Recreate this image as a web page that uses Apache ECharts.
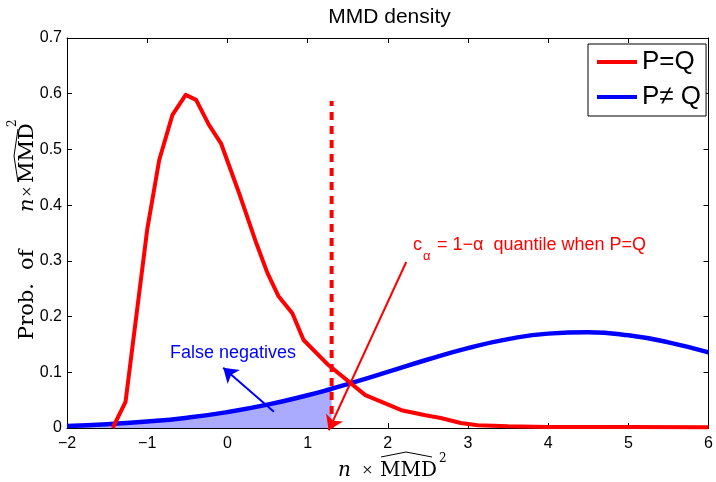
<!DOCTYPE html>
<html><head><meta charset="utf-8">
<script src="https://cdn.jsdelivr.net/npm/echarts@6/dist/echarts.min.js"></script>
<style>html,body{margin:0;padding:0;background:#fff}#c{width:716px;height:482px}</style>
</head><body><div id="c"></div>
<script>
// ---- data ----
const seriesNames = ['P=Q', 'P\u2260 Q'];
const redX = [-1.43, -1.27, -1.0, -0.85, -0.685, -0.52, -0.39, -0.23, -0.08, 0.15, 0.36, 0.50, 0.64, 0.81, 0.95, 1.26, 1.72, 2.17, 2.47, 2.66, 2.91, 3.12, 3.5, 4.0, 5.0, 6.0];
const redY = [0, 0.047, 0.356, 0.481, 0.562, 0.598, 0.589, 0.544, 0.511, 0.42, 0.332, 0.278, 0.236, 0.206, 0.158, 0.113, 0.059, 0.032, 0.023, 0.018, 0.009, 0.005, 0.003, 0.002, 0.002, 0.0015];
const blueX = [-2, -1.5, -1, -0.5, 0, 0.5, 1, 1.3, 1.5, 2, 2.5, 3, 3.5, 4, 4.5, 5, 5.5, 6];
const blueY = [0.0038, 0.0068, 0.0115, 0.0185, 0.0285, 0.0419, 0.0588, 0.0704, 0.0788, 0.1007, 0.123, 0.1434, 0.1595, 0.1694, 0.1718, 0.1663, 0.1537, 0.1356];
const cAlpha = 1.3;          // quantile position
const dashTop = 0.587;       // top of dashed quantile line
const xMin = -2, xMax = 6, xStep = 1;
const yMin = 0, yMax = 0.7, yStep = 0.1;
const arrowFalseNeg = [[0.58, 0.029], [-0.052, 0.108]];
const arrowQuantile = [[2.23, 0.298], [1.263, -0.004]];
const titleText = 'MMD density';
const falseNegText = 'False negatives';
const quantileText = '= 1\u2212\u03b1  quantile when P=Q';

// ---- chart ----
const SANS = '"Liberation Sans", Arial, Helvetica, sans-serif';
const SERIF = '"DejaVu Serif", "Liberation Serif", serif';
const TIMES = '"Liberation Serif", serif';
const chart = echarts.init(document.getElementById('c'), null, {renderer: 'canvas'});

const redData = redX.map((x, i) => [x, redY[i]]);
const blueData = blueX.map((x, i) => [x, blueY[i]]);
const fillData = blueData.filter(d => d[0] <= cAlpha);
const dashData = [[cAlpha, 0], [cAlpha, dashTop]];

function t(text, x, y, size, color, opts) {
  opts = opts || {};
  return {
    type: 'text', x: x, y: y, silent: true,
    style: {
      text: text, fill: color,
      font: (opts.italic ? 'italic ' : '') + size + 'px ' + (opts.family || SANS),
      textAlign: opts.align || 'left', align: opts.align || 'left',
      textVerticalAlign: 'middle', verticalAlign: 'middle'
    }
  };
}

const xLabelEls = [
  t('n', 338, 471, 20, '#000', {family: SERIF, italic: true}),
  t('\u00d7', 362, 471, 19, '#000', {family: TIMES}),
  t('MMD', 380, 471, 20, '#000', {family: SERIF}),
  {type: 'polyline', silent: true, shape: {points: [[381, 457], [406, 452], [432, 457]]}, style: {stroke: '#000', lineWidth: 1, fill: null}},
  t('2', 439, 459, 12, '#000', {family: SERIF})
];

const yLabelGroup = {
  type: 'group', x: 35, y: 340, rotation: Math.PI / 2, silent: true,
  children: [
    t('Prob.', 0, -7.3, 21, '#000', {family: SERIF}),
    t('of', 70, -7.3, 21, '#000', {family: SERIF}),
    t('n', 128, -7.3, 21, '#000', {family: SERIF, italic: true}),
    t('\u00d7', 143, -7.3, 19, '#000', {family: TIMES}),
    t('MMD', 157, -7.3, 21, '#000', {family: SERIF}),
    {type: 'polyline', shape: {points: [[158, -17], [184, -21], [211, -17]]}, style: {stroke: '#000', lineWidth: 1, fill: null}},
    t('2', 213, -22.5, 12, '#000', {family: SERIF})
  ]
};

const option = {
  animation: false,
  backgroundColor: '#fff',
  grid: {left: 67, right: 4, top: 38, bottom: 54, containLabel: false},
  legend: {
    data: seriesNames, orient: 'vertical', left: 588, top: 44,
    padding: [3, 5, 4, 9], itemGap: 5, itemWidth: 40, itemHeight: 4, icon: 'rect',
    backgroundColor: '#fff', borderColor: '#000', borderWidth: 1, borderRadius: 0,
    textStyle: {fontFamily: SANS, fontSize: 26, color: '#000', lineHeight: 30},
    selectedMode: false
  },
  xAxis: [{
    type: 'value', min: xMin, max: xMax, interval: xStep,
    axisLine: {onZero: false, lineStyle: {color: '#000', width: 1}},
    axisTick: {inside: true, length: 5, lineStyle: {color: '#000'}},
    axisLabel: {margin: 8, fontFamily: SANS, fontSize: 16, color: '#000',
      formatter: v => (v < 0 ? '\u2212' + (-v) : String(v))},
    splitLine: {show: false}
  }, {
    type: 'value', position: 'top', min: xMin, max: xMax, interval: xStep,
    axisLine: {onZero: false, lineStyle: {color: '#000', width: 1}},
    axisTick: {inside: true, length: 5, lineStyle: {color: '#000'}},
    axisLabel: {show: false}, splitLine: {show: false}
  }],
  yAxis: [{
    type: 'value', min: yMin, max: yMax, interval: yStep,
    axisLine: {show: true, onZero: false, lineStyle: {color: '#000', width: 1}},
    axisTick: {show: true, inside: true, length: 5, lineStyle: {color: '#000'}},
    axisLabel: {margin: 5, fontFamily: SANS, fontSize: 16, color: '#000'},
    splitLine: {show: false}
  }, {
    type: 'value', position: 'right', min: yMin, max: yMax, interval: yStep,
    axisLine: {show: true, onZero: false, lineStyle: {color: '#000', width: 1}},
    axisTick: {show: true, inside: true, length: 5, lineStyle: {color: '#000'}},
    axisLabel: {show: false}, splitLine: {show: false}
  }],
  series: [
    {name: 'fill', type: 'line', data: fillData, smooth: true, symbol: 'none',
      lineStyle: {width: 0, color: '#aaaaff'}, areaStyle: {color: '#aaaaff', opacity: 1}, z: 1, silent: true},
    {name: seriesNames[1], type: 'line', data: blueData, smooth: true, symbol: 'none', color: '#0000ff',
      lineStyle: {width: 4.5, color: '#0000ff'}, z: 3},
    {name: seriesNames[0], type: 'line', data: redData, symbol: 'none', color: '#ff0000',
      lineStyle: {width: 4, color: '#ff0000', join: 'round'}, z: 4},
    {name: 'quantile', type: 'line', data: dashData, symbol: 'none',
      lineStyle: {width: 4, color: '#ff0000', type: [8, 6]}, z: 5, clip: false},
    {name: 'arrows', type: 'lines', coordinateSystem: 'cartesian2d', polyline: false, clip: false,
      symbol: ['none', 'arrow'], symbolSize: 14, z: 6, silent: true,
      lineStyle: {opacity: 1, width: 2, curveness: 0},
      data: [
        {coords: arrowFalseNeg, lineStyle: {color: '#0000ff', width: 2, opacity: 1}},
        {coords: arrowQuantile, lineStyle: {color: '#ff0000', width: 2, opacity: 1}}
      ]}
  ],
  graphic: {elements: [
    t(titleText, 389.5, 17.5, 21, '#000', {align: 'center'}),
    t(falseNegText, 170, 353.5, 18, '#0000ff'),
    t('c', 413, 244.7, 18, '#ff0000'),
    t('\u03b1', 423, 256, 13, '#ff0000'),
    t(quantileText, 437, 244.7, 18, '#ff0000'),
    ...xLabelEls,
    yLabelGroup
  ]}
};
chart.setOption(option);
</script>
</body></html>
